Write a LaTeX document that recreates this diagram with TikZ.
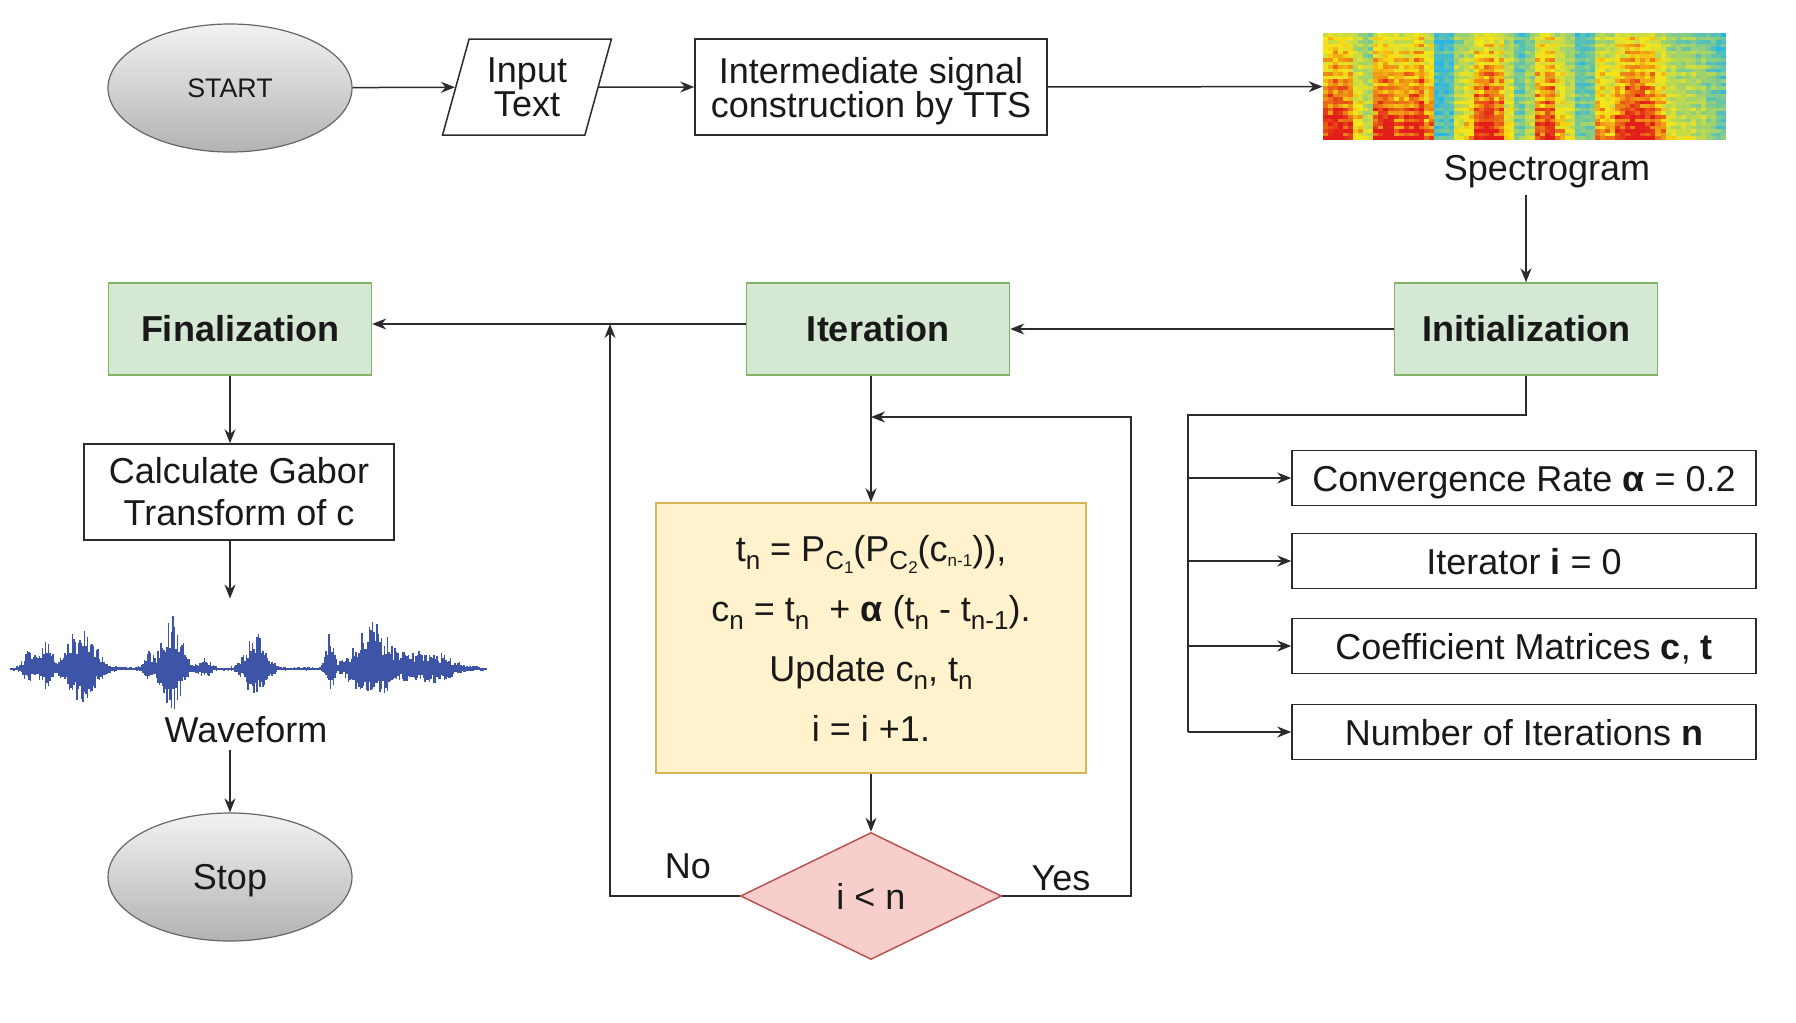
\documentclass[tikz,border=0pt]{standalone}
\usepackage{fontspec}
\setmainfont{Liberation Sans}
\usetikzlibrary{shapes.geometric,arrows.meta,positioning}
\definecolor{stagefill}{HTML}{D5E8D4}
\definecolor{stageline}{HTML}{82B366}
\definecolor{updfill}{HTML}{FFF2CC}
\definecolor{updline}{HTML}{D6B656}
\definecolor{decfill}{HTML}{F8CECC}
\definecolor{decline}{HTML}{B85450}
\definecolor{linec}{HTML}{2B2B2B}
\definecolor{wavec}{RGB}{62,84,166}
\definecolor{specC}{RGB}{40,180,230}
\definecolor{specG}{RGB}{150,208,120}
\definecolor{specY}{RGB}{250,230,20}
\definecolor{specR}{RGB}{225,30,25}
\tikzset{>={Stealth[length=7pt,width=5.5pt]}}
\tikzset{
    every node/.style={font=\fontsize{18}{17}\selectfont, text=black!90},
    conn/.style={->, draw=linec, line width=0.75pt},
    link/.style={draw=linec, line width=0.75pt},
    terminal/.style={ellipse, draw=black!60, line width=0.6pt, top color=black!5, bottom color=black!30, minimum width=122pt, minimum height=64pt},
    inputbox/.style={trapezium, trapezium left angle=73, trapezium right angle=107, trapezium stretches=true, draw=linec, line width=0.75pt, minimum width=84.5pt, minimum height=48pt, align=center, inner sep=1pt},
    procbox/.style={rectangle, draw=linec, line width=0.75pt, align=center},
    stagebox/.style={rectangle, draw=stageline, fill=stagefill, line width=0.75pt, minimum width=131.5pt, minimum height=46pt, font=\fontsize{18}{22}\selectfont\bfseries},
    initbox/.style={procbox, minimum width=232pt, minimum height=27.5pt, text height=13pt, text depth=0pt},
    updatebox/.style={rectangle, draw=updline, fill=updfill, line width=0.75pt, minimum width=215pt, minimum height=135pt, align=center, font=\fontsize{18}{30}\selectfont},
    decision/.style={diamond, aspect=2, draw=decline, fill=decfill, line width=0.75pt, minimum width=130.5pt, minimum height=63.5pt, inner sep=0pt},
}
\newcommand{\sbs}[1]{\raisebox{-0.45ex}{\fontsize{13}{13}\selectfont #1}}
\newcommand{\ssbs}[1]{\raisebox{-0.3ex}{\fontsize{8.5}{9}\selectfont #1}}
\newcommand{\initrow}[3]{
    \node[initbox] (#1) at (1524,#2) {#3};
}
\def\specenergy{{0.85,0.9,0.85,0.6,0.45,0.85,0.9,0.8,0.85,0.9,0.75,0.1,0.15,0.5,0.6,0.85,0.9,0.8,0.55,0.25,0.4,0.8,0.85,0.65,0.5,0.2,0.25,0.7,0.65,0.8,0.9,0.9,0.85,0.7,0.5,0.45,0.45,0.4,0.3,0.2}}

\begin{document}
\begin{tikzpicture}[x=0.5pt,y=-0.5pt]
    \path[use as bounding box, fill=white] (0,0) rectangle (1796,1023);

    % top row
    \node[terminal, font=\fontsize{13.4}{16}\selectfont] (start) at (230,88) {START};
    \node[inputbox] (input) at (527,87) {Input\\Text};
    \node[procbox, minimum width=176pt, minimum height=48pt, text depth=0pt] (tts) at (871,87) {Intermediate signal\\construction by TTS};

    % spectrogram
    \pgfmathsetseed{7}
    \foreach \k in {0,...,79} {
        \pgfmathsetmacro\e{\specenergy[int(\k/2)]}
        \foreach \r in {0,...,29} {
            \pgfmathsetmacro\sv{\e*(1.05-0.42*\r/29)+0.2*(rnd-0.5)+0.05*cos(180*\r)}
            \pgfmathsetmacro\mixa{max(0,min(100,\sv/0.3*100))}
            \pgfmathsetmacro\mixb{max(0,min(100,(\sv-0.3)/0.3*100))}
            \pgfmathsetmacro\mixc{max(0,min(100,(\sv-0.6)/0.3*100))}
            \colorlet{cellc}{specG!\mixa!specC}
            \colorlet{cellc}{specY!\mixb!cellc}
            \colorlet{cellc}{specR!\mixc!cellc}
            \fill[cellc] ({1323+\k*5.0375},{140-\r*3.567}) rectangle ++(5.2,-3.7);
        }
    }
    \node[minimum width=201.5pt, minimum height=53.5pt, inner sep=0pt] (spec) at (1524.5,86.5) {};
    \node (speclabel) at (1547,172) {Spectrogram};

    % stages
    \node[stagebox] (init) at (1526,329) {Initialization};
    \node[stagebox] (iter) at (878,329) {Iteration};
    \node[stagebox] (final) at (240,329) {Finalization};

    % parameters
    \initrow{rate}{478}{Convergence Rate \textbf{α} = 0.2}
    \initrow{iterator}{561}{Iterator \textbf{i} = 0}
    \initrow{coef}{646}{Coefficient Matrices \textbf{c}, \textbf{t}}
    \initrow{count}{732}{Number of Iterations \textbf{n}}
    \coordinate (split) at (1188,415);

    % loop
    \node[updatebox] (update) at (871,638) {t\sbs{n} = P\sbs{C\ssbs{1}}(P\sbs{C\ssbs{2}}(c\ssbs{n-1})),\\
        c\sbs{n} = t\sbs{n}\ \ + \textbf{α} (t\sbs{n} - t\sbs{n-1}).\\
        Update c\sbs{n}, t\sbs{n}\\
        i = i +1.};
    \node[decision] (check) at (871,896) {i < n};
    \coordinate (yesjoin) at (871,417);
    \coordinate (yesturn) at (1131,417);
    \coordinate (nojoin) at (610,324);
    \node (nolabel) at (688,866) {No};
    \node (yeslabel) at (1061,878) {Yes};

    % left column
    \node[procbox, minimum width=155pt, minimum height=48pt, font=\fontsize{18}{21}\selectfont] (gabor) at (239,492) {Calculate Gabor\\Transform of c};
    \draw[wavec, line width=0.6pt] (11,669) -- (487,669);
    \foreach \x in {11,12.5,...,487} {
        \pgfmathsetmacro\amp{2+18*exp(-min(((\x-30)/8)^2,20))+26*exp(-min(((\x-47)/7)^2,20))+44*exp(-min(((\x-82)/18)^2,20))+14*exp(-min(((\x-148)/6)^2,20))+54*exp(-min(((\x-172)/13)^2,20))+10*exp(-min(((\x-205)/8)^2,20))+38*exp(-min(((\x-256)/13)^2,20))+34*exp(-min(((\x-330)/5)^2,20))+46*exp(-min(((\x-372)/22)^2,20))+18*exp(-min(((\x-428)/30)^2,20))}
        \pgfmathsetmacro\ampup{\amp*(0.35+0.65*rnd)}
        \pgfmathsetmacro\ampdn{0.75*\amp*(0.35+0.65*rnd)}
        \draw[wavec, line width=0.6pt] (\x,{669-\ampup}) -- (\x,{669+\ampdn});
    }
    \node[minimum width=238pt, minimum height=70pt, inner sep=0pt] (wave) at (249,669) {};
    \node (wavelabel) at (246,730) {Waveform};
    \node[terminal, text depth=0pt] (stop) at (230,877) {Stop};

    % connectors
    \draw[conn] (start) -- (input);
    \draw[conn] (input) -- (tts);
    \draw[conn] (tts) -- (spec);
    \draw[conn] (speclabel.south -| init) -- (init);
    \draw[conn] (init) -- (iter);
    \draw[conn] ([yshift=2.5pt]iter.west) -- ([yshift=2.5pt]final.east);
    \draw[link] (init.south) |- (split) -- (split |- count.west);
    \foreach \p in {rate,iterator,coef,count}
        \draw[conn] (split |- \p.west) -- (\p.west);
    \draw[conn] (iter.south -| update) -- (update);
    \draw[conn] (update) -- (check);
    \draw[conn] (check.west) -| (nojoin);
    \draw[conn] (check.east) -| (yesturn) -- (yesjoin);
    \draw[conn] (final.south -| stop) -- (gabor.north -| stop);
    \draw[conn] (gabor.south -| stop) -- (wave.north -| stop);
    \draw[conn] (wavelabel.south -| stop) -- (stop);
\end{tikzpicture}
\end{document}
